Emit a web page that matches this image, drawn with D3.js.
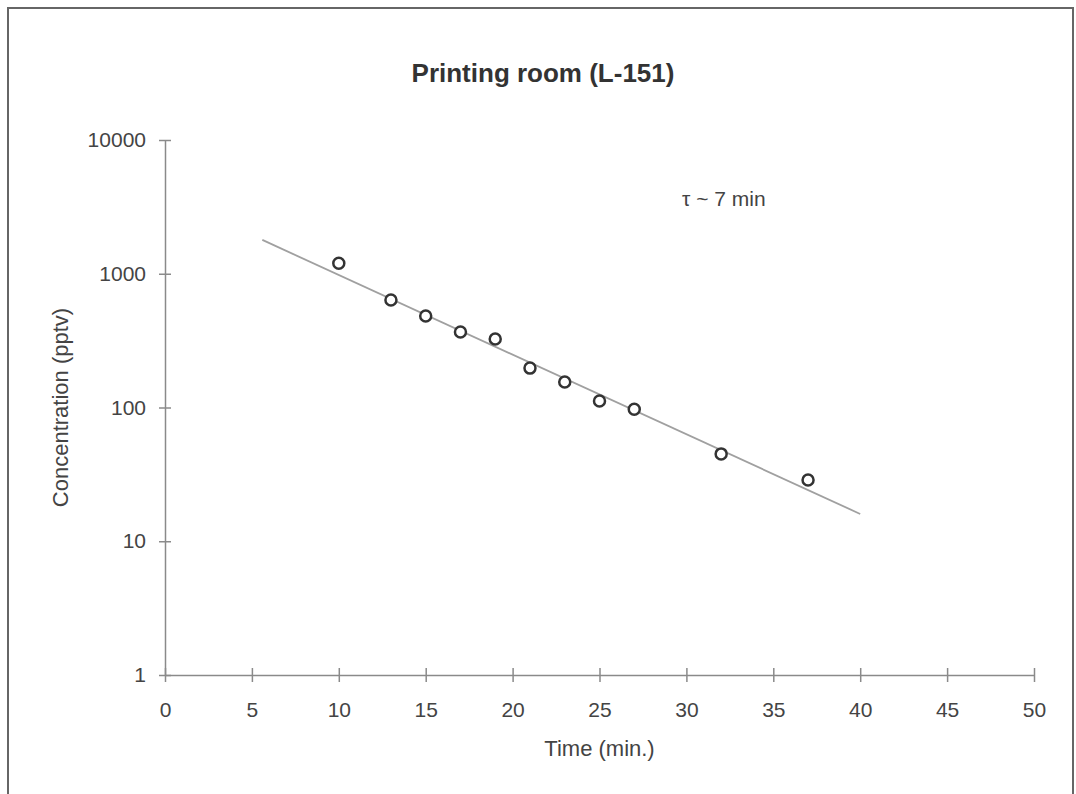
<!DOCTYPE html>
<html>
<head>
<meta charset="utf-8">
<script src="https://cdn.jsdelivr.net/npm/d3@7"></script>
<style>
    body { margin: 0; background: #fff; }
    svg { font-family: "Liberation Sans", Arial, Helvetica, sans-serif; }
    .axis path, .axis line { stroke: #8a8a8a; stroke-width: 1.5; }
    .axis text { fill: #444; font-size: 21px; }
    .label { fill: #444; font-size: 22px; }
</style>
</head>
<body>
<div id="chart"></div>
<script>
const ctx = {
    W: 1076,
    H: 794,
    left: 165,
    right: 1034,
    top: 140,
    bottom: 675,
};

// measurements (time in min, concentration in pptv)
const times = [10, 13, 15, 17, 19, 21, 23, 25, 27, 32, 37];
const concentrations = [1200, 636, 483, 367, 325, 197, 155, 112, 97, 45, 28.7];

// exponential fit drawn as straight line on log axis: endpoints
const fitTimes = [5.6, 40];
const fitValues = [1790, 16];

const xTicks = [0, 5, 10, 15, 20, 25, 30, 35, 40, 45, 50];
const yTicks = [1, 10, 100, 1000, 10000];

function createViz() {
    const svg = d3.select("#chart").append("svg")
                  .attr("width", ctx.W)
                  .attr("height", ctx.H);

    // frame around the figure
    svg.append("rect")
       .attr("x", 8).attr("y", 8)
       .attr("width", 1065).attr("height", 800)
       .style("fill", "none")
       .style("stroke", "#666")
       .style("stroke-width", 2);

    const x = d3.scaleLinear().domain([0, 50]).range([ctx.left, ctx.right]);
    const y = d3.scaleLog().domain([1, 10000]).range([ctx.bottom, ctx.top]);

    const xAxis = svg.append("g")
        .attr("class", "axis")
        .attr("transform", `translate(0,${ctx.bottom})`)
        .call(d3.axisBottom(x).tickValues(xTicks).tickSizeInner(7).tickSizeOuter(0).tickPadding(20));
    xAxis.selectAll(".tick line").attr("y1", -7).attr("y2", 7);

    const yAxis = svg.append("g")
        .attr("class", "axis")
        .attr("transform", `translate(${ctx.left},0)`)
        .call(d3.axisLeft(y).tickValues(yTicks).tickFormat(d3.format("d")).tickSizeInner(6).tickSizeOuter(0).tickPadding(13));
    yAxis.selectAll(".tick line").attr("x1", -6).attr("x2", 6);

    // fit line
    const fit = fitTimes.map((t, i) => ({t: t, c: fitValues[i]}));
    svg.append("path")
       .datum(fit)
       .attr("d", d3.line().x(d => x(d.t)).y(d => y(d.c)))
       .style("fill", "none")
       .style("stroke", "#a0a0a0")
       .style("stroke-width", 1.8);

    // data points
    const pts = times.map((t, i) => ({t: t, c: concentrations[i]}));
    svg.append("g")
       .selectAll("circle")
       .data(pts)
       .enter()
       .append("circle")
       .attr("cx", d => x(d.t))
       .attr("cy", d => y(d.c))
       .attr("r", 5.5)
       .style("fill", "#fff")
       .style("stroke", "#333")
       .style("stroke-width", 2.5);

    svg.append("text")
       .attr("x", 543).attr("y", 82)
       .attr("text-anchor", "middle")
       .style("font-size", "26px")
       .style("font-weight", "bold")
       .style("fill", "#333")
       .text("Printing room (L-151)");

    svg.append("text")
       .attr("class", "label")
       .attr("x", 682).attr("y", 206)
       .style("font-size", "21px")
       .text("τ ~ 7 min");

    svg.append("text")
       .attr("class", "label")
       .attr("x", (ctx.left + ctx.right) / 2).attr("y", 756)
       .attr("text-anchor", "middle")
       .text("Time (min.)");

    svg.append("text")
       .attr("class", "label")
       .attr("transform", `translate(68,${(ctx.top + ctx.bottom) / 2}) rotate(-90)`)
       .attr("text-anchor", "middle")
       .text("Concentration (pptv)");
}

createViz();
</script>
</body>
</html>
